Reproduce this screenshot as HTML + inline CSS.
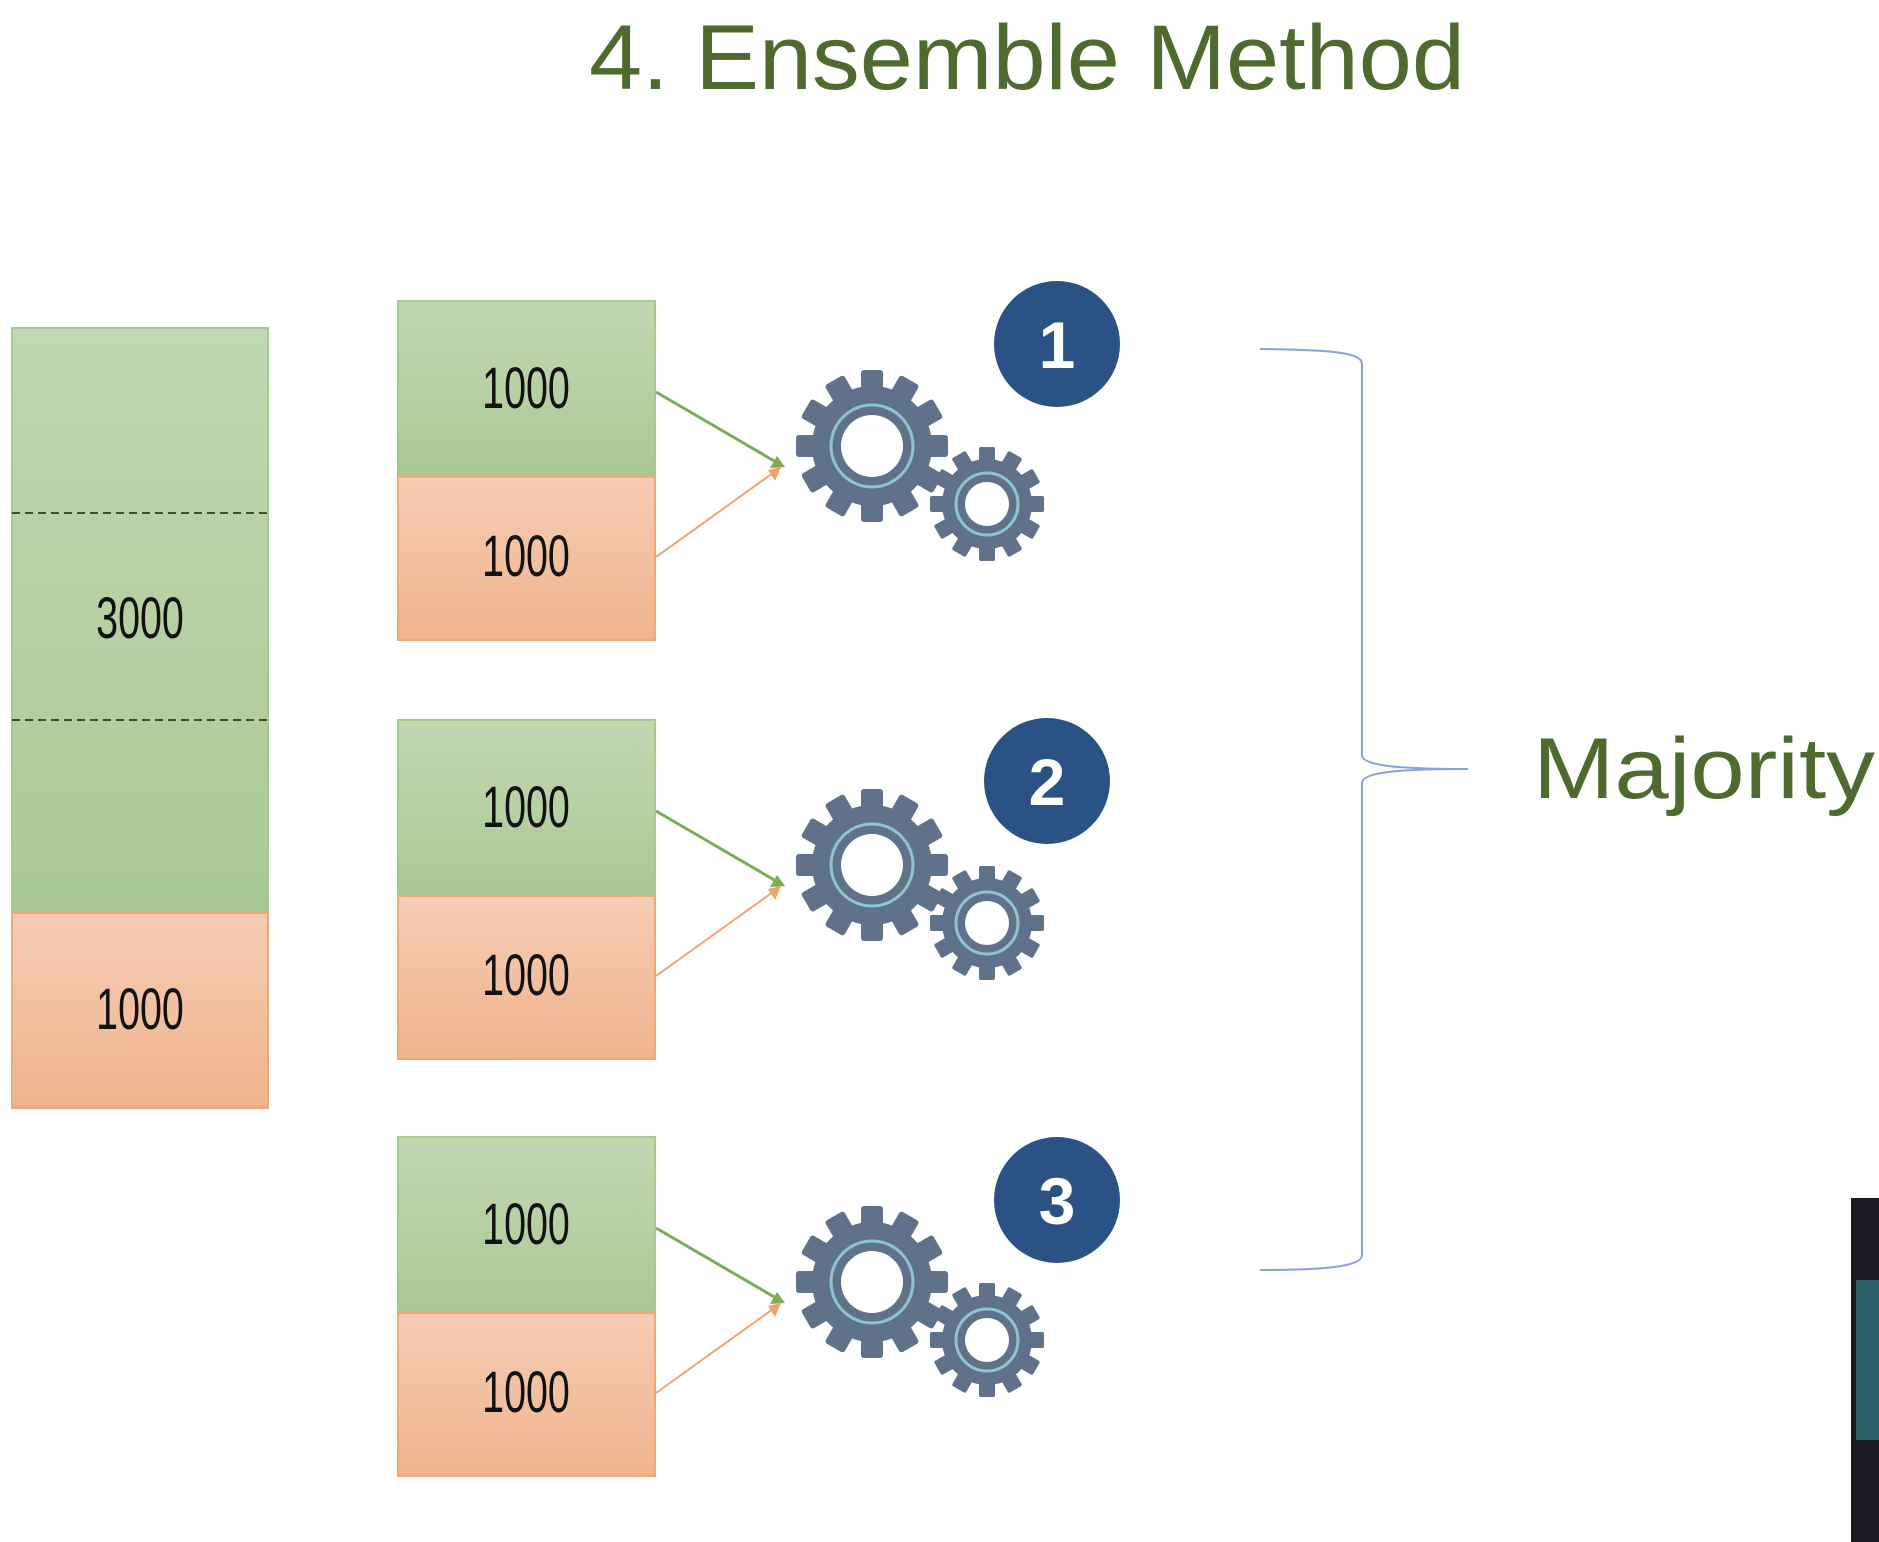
<!DOCTYPE html>
<html><head><meta charset="utf-8"><style>
html,body{margin:0;padding:0;background:#fff;}
svg{display:block}
</style></head><body>
<svg width="1879" height="1542" viewBox="0 0 1879 1542" xmlns="http://www.w3.org/2000/svg">
<defs>
<linearGradient id="gG" x1="0" y1="0" x2="0" y2="1"><stop offset="0" stop-color="#c3d7b3"/><stop offset="1" stop-color="#a9c992"/></linearGradient>
<linearGradient id="gO" x1="0" y1="0" x2="0" y2="1"><stop offset="0" stop-color="#f5cdb3"/><stop offset="1" stop-color="#f0b38e"/></linearGradient>
<g id="gearBig">
 <circle r="60" fill="#5f7289"/>
 <g fill="#5f7289">
  <rect x="-11" y="-76" width="22" height="20" rx="3"/>
  <rect x="-11" y="-76" width="22" height="20" rx="3" transform="rotate(30)"/>
  <rect x="-11" y="-76" width="22" height="20" rx="3" transform="rotate(60)"/>
  <rect x="-11" y="-76" width="22" height="20" rx="3" transform="rotate(90)"/>
  <rect x="-11" y="-76" width="22" height="20" rx="3" transform="rotate(120)"/>
  <rect x="-11" y="-76" width="22" height="20" rx="3" transform="rotate(150)"/>
  <rect x="-11" y="-76" width="22" height="20" rx="3" transform="rotate(180)"/>
  <rect x="-11" y="-76" width="22" height="20" rx="3" transform="rotate(210)"/>
  <rect x="-11" y="-76" width="22" height="20" rx="3" transform="rotate(240)"/>
  <rect x="-11" y="-76" width="22" height="20" rx="3" transform="rotate(270)"/>
  <rect x="-11" y="-76" width="22" height="20" rx="3" transform="rotate(300)"/>
  <rect x="-11" y="-76" width="22" height="20" rx="3" transform="rotate(330)"/>
 </g>
 <circle r="41" fill="none" stroke="#8fc5cf" stroke-width="3"/>
 <circle r="31" fill="#fff"/>
</g>
<g id="gearSmall">
 <circle r="45" fill="#5f7289"/>
 <g fill="#5f7289">
  <rect x="-8" y="-57" width="16" height="15" rx="2"/>
  <rect x="-8" y="-57" width="16" height="15" rx="2" transform="rotate(30)"/>
  <rect x="-8" y="-57" width="16" height="15" rx="2" transform="rotate(60)"/>
  <rect x="-8" y="-57" width="16" height="15" rx="2" transform="rotate(90)"/>
  <rect x="-8" y="-57" width="16" height="15" rx="2" transform="rotate(120)"/>
  <rect x="-8" y="-57" width="16" height="15" rx="2" transform="rotate(150)"/>
  <rect x="-8" y="-57" width="16" height="15" rx="2" transform="rotate(180)"/>
  <rect x="-8" y="-57" width="16" height="15" rx="2" transform="rotate(210)"/>
  <rect x="-8" y="-57" width="16" height="15" rx="2" transform="rotate(240)"/>
  <rect x="-8" y="-57" width="16" height="15" rx="2" transform="rotate(270)"/>
  <rect x="-8" y="-57" width="16" height="15" rx="2" transform="rotate(300)"/>
  <rect x="-8" y="-57" width="16" height="15" rx="2" transform="rotate(330)"/>
 </g>
 <circle r="31" fill="none" stroke="#8fc5cf" stroke-width="3"/>
 <circle r="22" fill="#fff"/>
</g>
<g id="unit">
 <rect x="398" y="301" width="257" height="176" fill="url(#gG)" stroke="#a6c98c" stroke-width="2"/>
 <rect x="398" y="477" width="257" height="163" fill="url(#gO)" stroke="#f0a878" stroke-width="2"/>
 <text transform="translate(526,408) scale(0.68,1)" text-anchor="middle" font-family="Liberation Sans, sans-serif" font-size="58" fill="#111">1000</text>
 <text transform="translate(526,576) scale(0.68,1)" text-anchor="middle" font-family="Liberation Sans, sans-serif" font-size="58" fill="#111">1000</text>
 <line x1="656" y1="392" x2="776" y2="462" stroke="#7dab57" stroke-width="3"/>
 <polygon points="785,467 770,468 777,456" fill="#7dab57"/>
 <line x1="656" y1="557" x2="773" y2="473" stroke="#f2a26c" stroke-width="2"/>
 <polygon points="781,467 775,481 768,470" fill="#f2a26c"/>
 <use href="#gearBig" x="872" y="446"/>
 <use href="#gearSmall" x="987" y="504"/>
</g>
</defs>

<text x="589" y="89" textLength="876" lengthAdjust="spacingAndGlyphs" font-family="Liberation Sans, sans-serif" font-size="92" fill="#4e6a2e">4. Ensemble Method</text>

<rect x="12" y="328" width="256" height="585" fill="url(#gG)" stroke="#a6c98c" stroke-width="2"/>
<rect x="12" y="913" width="256" height="195" fill="url(#gO)" stroke="#f0a878" stroke-width="2"/>
<line x1="12" y1="513" x2="268" y2="513" stroke="#3c5030" stroke-width="2" stroke-dasharray="8,5"/>
<line x1="12" y1="720" x2="270" y2="720" stroke="#3c5030" stroke-width="2" stroke-dasharray="8,5"/>
<text transform="translate(140,638) scale(0.68,1)" text-anchor="middle" font-family="Liberation Sans, sans-serif" font-size="58" fill="#111">3000</text>
<text transform="translate(140,1029) scale(0.68,1)" text-anchor="middle" font-family="Liberation Sans, sans-serif" font-size="58" fill="#111">1000</text>

<use href="#unit"/>
<use href="#unit" y="419"/>
<use href="#unit" y="836"/>

<circle cx="1057" cy="344" r="63" fill="#2b5285"/>
<text x="1057" y="368" text-anchor="middle" font-family="Liberation Sans, sans-serif" font-weight="bold" font-size="66" fill="#fff">1</text>
<circle cx="1047" cy="781" r="63" fill="#2b5285"/>
<text x="1047" y="805" text-anchor="middle" font-family="Liberation Sans, sans-serif" font-weight="bold" font-size="66" fill="#fff">2</text>
<circle cx="1057" cy="1200" r="63" fill="#2b5285"/>
<text x="1057" y="1224" text-anchor="middle" font-family="Liberation Sans, sans-serif" font-weight="bold" font-size="66" fill="#fff">3</text>

<path d="M1260,349 C1330,350 1362,352 1362,364 L1362,755 C1362,766 1400,769 1468,769 C1400,769 1362,772 1362,783 L1362,1255 C1362,1266 1330,1270 1260,1270" fill="none" stroke="#8aa2d8" stroke-width="2"/>

<text x="1533" y="798" textLength="342" lengthAdjust="spacingAndGlyphs" font-family="Liberation Sans, sans-serif" font-size="86" fill="#4e6a2e">Majority</text>

<rect x="1851" y="1198" width="28" height="344" fill="#1a1a22"/>
<rect x="1856" y="1280" width="23" height="160" fill="#3a8d98" opacity="0.6"/>
</svg>
</body></html>
